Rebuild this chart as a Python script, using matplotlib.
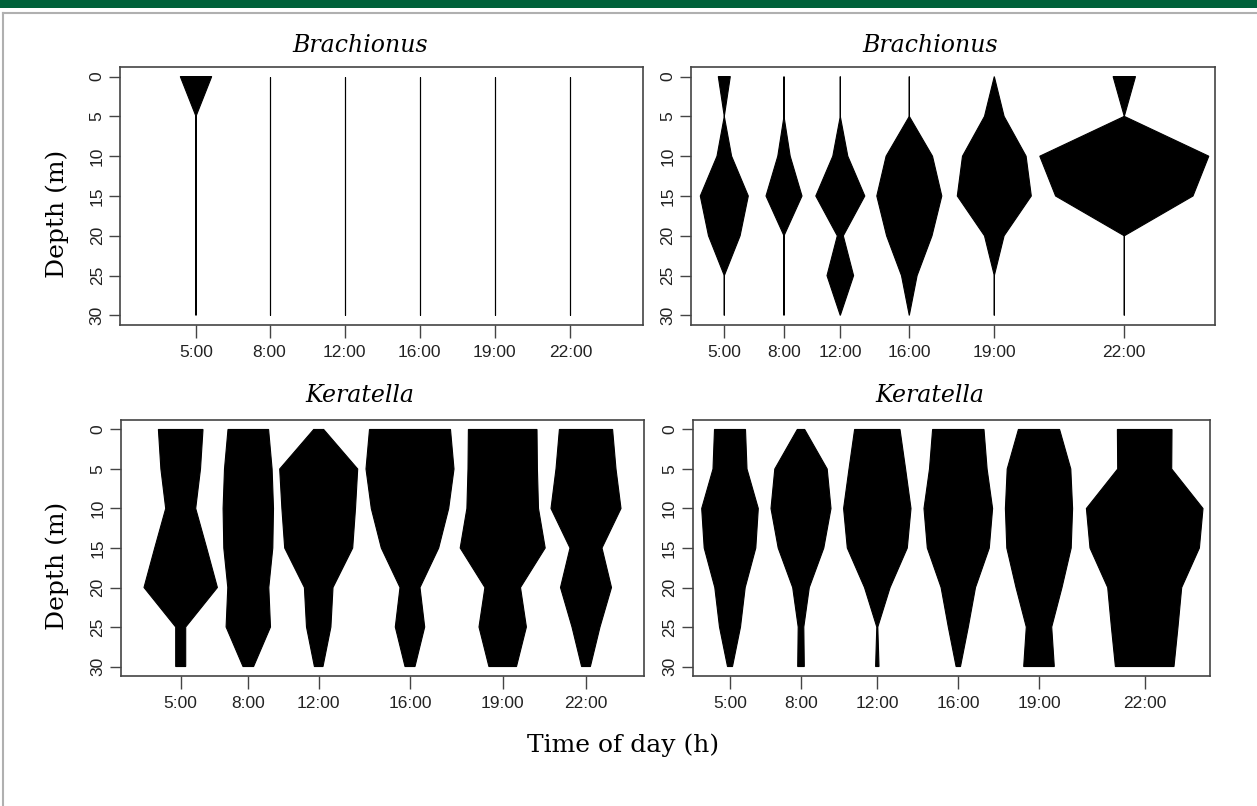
import matplotlib
matplotlib.use("Agg")
import matplotlib.pyplot as plt
from matplotlib.lines import Line2D
from matplotlib.patches import Rectangle

# ---------------- data ----------------
depths = [0, 5, 10, 15, 20, 25, 30]
times = ["5:00", "8:00", "12:00", "16:00", "19:00", "22:00"]
titles = ["Brachionus", "Brachionus", "Keratella", "Keratella"]

# kite half-widths (abundance, drawn at 1 unit = 1 px) per time, per depth
brach_left = [
    [15.7, 0, 0, 0, 0, 0, 0],
    [0, 0, 0, 0, 0, 0, 0],
    [0, 0, 0, 0, 0, 0, 0],
    [0, 0, 0, 0, 0, 0, 0],
    [0, 0, 0, 0, 0, 0, 0],
    [0, 0, 0, 0, 0, 0, 0],
]
brach_right = [
    [6, 0, 7.3, 24, 15.8, 0, 0],
    [0, 0, 6.2, 18, 0, 0, 0],
    [0, 0, 7.5, 24.5, 3, 13.3, 0],
    [0, 0, 23.2, 32.5, 22.7, 7.8, 0],
    [0, 9.8, 31.8, 37, 9.8, 0, 0],
    [11.2, 0, 84.5, 68.7, 0, 0, 0],
]
kera_left = [
    [22.3, 19.8, 15, 26, 36.7, 5, 5],
    [20.3, 23.8, 25.2, 24.5, 20.5, 22.2, 5.3],
    [5, 39, 36.8, 34, 14.3, 12.2, 4.3],
    [40.5, 44, 38.7, 28.7, 10, 14.7, 5],
    [34.3, 34.7, 35.8, 42.5, 17.8, 23.7, 13.8],
    [26.6, 30, 35, 16, 25.5, 14, 4.4],
]
kera_right = [
    [15.5, 17, 28.3, 25.8, 15.2, 10.5, 2.5],
    [3.7, 26.2, 30, 22.8, 8.3, 2.8, 3.3],
    [22.7, 28.3, 33.7, 30, 12.8, 0.5, 1.7],
    [25.7, 28.8, 34.3, 31, 17.2, 10, 2.2],
    [20.6, 31.8, 33.6, 32.2, 23, 12.7, 15.3],
    [27.3, 27, 58.3, 54.7, 37, 33.3, 29.3],
]
panel_data = [brach_left, brach_right, kera_left, kera_right]

# ---------------- layout (pixels of a 1257 x 806 canvas) ----------------
W, H = 1257, 806
# axes boxes: left, right, top, bottom
boxes = [
    (120.4, 643, 67, 325),
    (691, 1215, 67, 325),
    (121, 644, 420, 676),
    (692.7, 1210, 420, 676),
]
# kite centre positions along x (pixels)
centers = [
    [196, 269.6, 344.6, 419.6, 494.6, 570.4],
    [724.3, 784, 840.3, 909.3, 994.3, 1124.3],
    [180.7, 248.3, 318.7, 410, 502.7, 586],
    [730, 801, 877.3, 958.3, 1039, 1144.7],
]
title_xy = [(360, 46), (930, 46), (360, 396), (930, 396)]

fig = plt.figure(figsize=(W / 100, H / 100), dpi=100)

tick_font = dict(family="Liberation Sans", size=12.5, color="#222222")
serif = "DejaVu Serif"

for k in range(4):
    l, r, t, b = boxes[k]
    ax = fig.add_axes([l / W, 1 - b / H, (r - l) / W, (b - t) / H])
    ax.set_xlim(l, r)
    ax.set_ylim(31.2, -1.2)
    for c, widths in zip(centers[k], panel_data[k]):
        xs = [c - w for w in widths] + [c + w for w in widths[::-1]]
        ys = depths + depths[::-1]
        ax.fill(xs, ys, facecolor="black", edgecolor="black", linewidth=0.8)
    ax.set_xticks(centers[k])
    ax.set_xticklabels(times, **tick_font)
    ax.set_yticks(depths)
    ax.set_yticklabels([str(d) for d in depths], rotation=90, va="center", **tick_font)
    ax.tick_params(axis="x", direction="out", length=9.5, width=1.0, color="#444444", pad=5)
    ax.tick_params(axis="y", direction="out", length=7.7, width=1.0, color="#444444", pad=3.6)
    for sp in ax.spines.values():
        sp.set_color("#444444")
        sp.set_linewidth(1.2)
    if k % 2 == 0:
        fig.text(57 / W, 1 - (t + 0.43 * 0 + (b - t) * 0.57) / H, "Depth (m)", family=serif,
                 size=18, rotation=90, ha="center", va="center")
    tx, ty = title_xy[k]
    fig.text(tx / W, 1 - ty / H, titles[k], family=serif, style="italic",
             size=17, ha="center", va="center")

fig.text(623 / W, 1 - 745 / H, "Time of day (h)", family=serif, size=18, ha="center", va="center")

# page decoration: green header bar and grey frame
fig.patches.append(Rectangle((0, 1 - 8 / H), 1, 8 / H, transform=fig.transFigure,
                             facecolor="#00613a", edgecolor="none"))
fig.lines.append(Line2D([3 / W, 1], [1 - 13 / H, 1 - 13 / H], transform=fig.transFigure,
                        color="#b0b0b0", linewidth=1.5))
fig.lines.append(Line2D([3 / W, 3 / W], [1 - 13 / H, 0], transform=fig.transFigure,
                        color="#b0b0b0", linewidth=1.5))

fig.savefig("out.png", dpi=100)
